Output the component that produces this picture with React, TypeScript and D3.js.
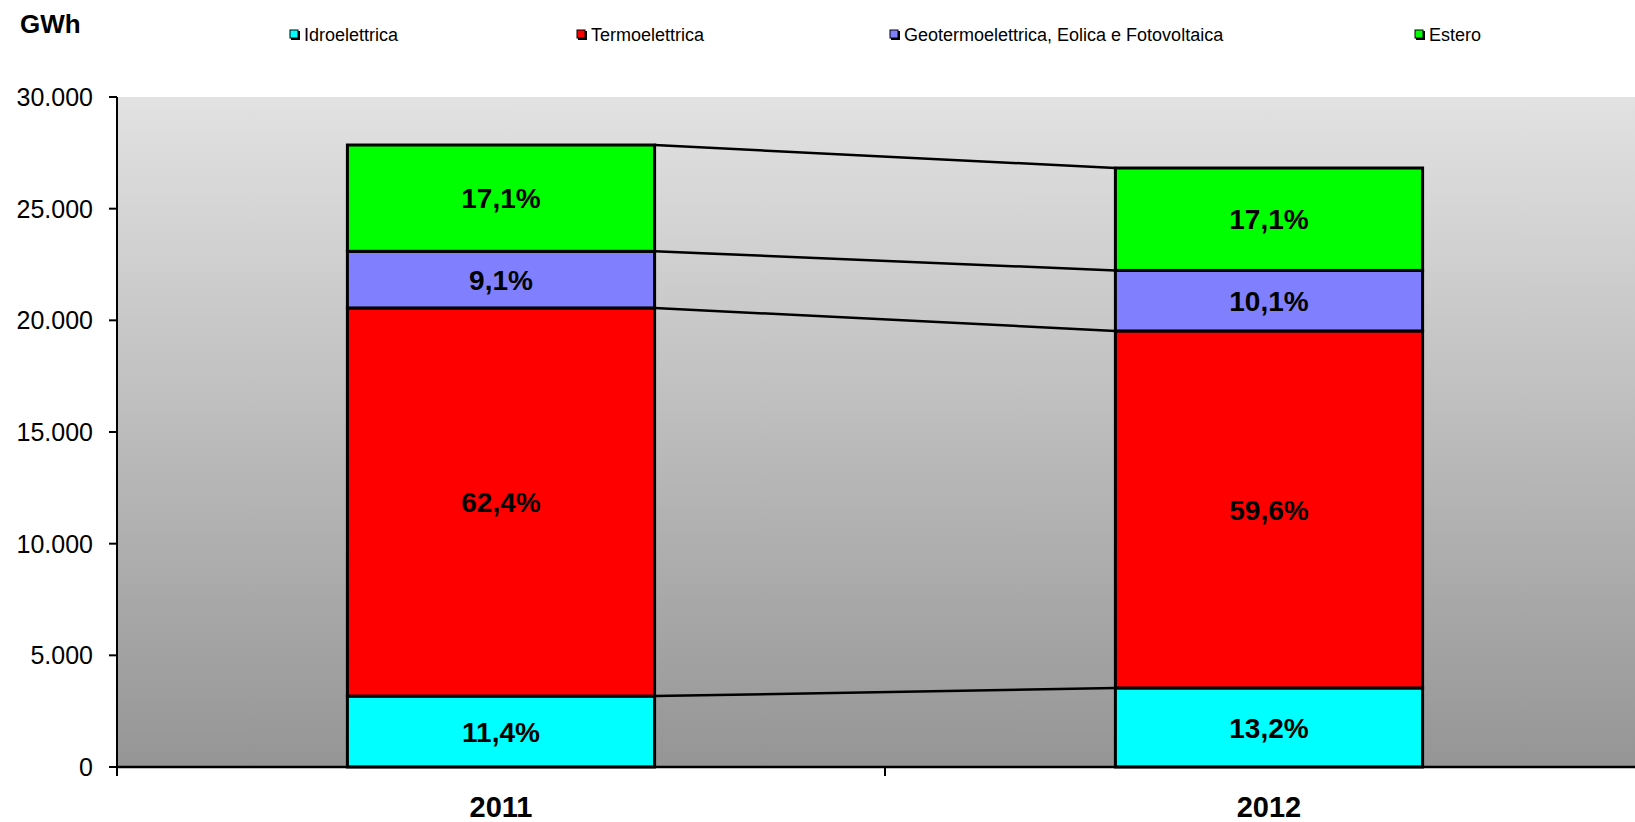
import { useMemo } from "react"
import * as d3 from "d3"

const years = ["2011", "2012"]
const seriesNames = ["Idroelettrica", "Termoelettrica", "Geotermoelettrica, Eolica e Fotovoltaica", "Estero"]
const seriesColors = ["#00ffff", "#ff0000", "#8080ff", "#00ff00"]
// GWh by source, one array per year (same order as seriesNames)
const values2011 = [3175, 17380, 2535, 4760]
const values2012 = [3540, 15985, 2710, 4585]
const yTicks = [0, 5000, 10000, 15000, 20000, 25000, 30000]

const W = 1635
const H = 822
const plot = { left: 117, right: 1653, top: 97, bottom: 767 }
const legendX = [290, 577, 890, 1415]

const itLocale = d3.formatLocale({ decimal: ",", thousands: ".", grouping: [3], currency: ["", "€"] })
const fmtTick = itLocale.format(",")

export default function App() {
  const data = useMemo(() => {
    const rows = [values2011, values2012]
    return years.map((year, j) => {
      const vals = rows[j]
      const total = d3.sum(vals)
      let cum = 0
      const segs = vals.map((v, i) => {
        const s = { i, y0: cum, y1: cum + v, pct: ((v / total) * 100).toFixed(1).replace(".", ",") + "%" }
        cum += v
        return s
      })
      return { year, segs }
    })
  }, [])

  const x = d3.scaleBand<string>().domain(years).range([plot.left, plot.right]).paddingInner(0.6).paddingOuter(0.3)
  const y = d3.scaleLinear().domain([0, 30000]).range([plot.bottom, plot.top])
  const bw = x.bandwidth()
  const step = x.step()

  const font = "'Liberation Sans', Arial, Helvetica, sans-serif"

  return (
    <svg
      width={W}
      height={H}
      style={{ position: "absolute", left: 0, top: 0, background: "#fff" }}
      fontFamily={font}
    >
      <defs>
        <linearGradient id="bg" x1="0" y1="0" x2="0" y2="1">
          <stop offset="0%" stopColor="#e2e2e2" />
          <stop offset="100%" stopColor="#959595" />
        </linearGradient>
      </defs>

      {/* plot background */}
      <rect x={plot.left} y={plot.top} width={W - plot.left} height={plot.bottom - plot.top} fill="url(#bg)" />

      {/* series lines between stacked bars */}
      {data[0].segs.map((s, i) => (
        <line
          key={"sl" + i}
          x1={(x(years[0]) ?? 0) + bw}
          x2={x(years[1]) ?? 0}
          y1={y(s.y1)}
          y2={y(data[1].segs[i].y1)}
          stroke="#000"
          strokeWidth={2.5}
        />
      ))}

      {/* bars */}
      {data.map((d) =>
        d.segs.map((s) => (
          <g key={d.year + s.i}>
            <rect
              x={x(d.year)}
              y={y(s.y1)}
              width={bw}
              height={y(s.y0) - y(s.y1)}
              fill={seriesColors[s.i]}
              stroke="#000"
              strokeWidth={3}
            />
            <text
              x={(x(d.year) ?? 0) + bw / 2}
              y={(y(s.y0) + y(s.y1)) / 2}
              dy="0.36em"
              textAnchor="middle"
              fontWeight="bold"
              fontSize={28}
              fill="#000"
            >
              {s.pct}
            </text>
          </g>
        )),
      )}

      {/* y axis */}
      <line x1={plot.left} x2={plot.left} y1={plot.top} y2={plot.bottom} stroke="#000" strokeWidth={2} />
      {yTicks.map((t) => (
        <g key={"yt" + t}>
          <line x1={plot.left - 8} x2={plot.left} y1={y(t)} y2={y(t)} stroke="#000" strokeWidth={2} />
          <text x={plot.left - 24} y={y(t)} dy="0.36em" textAnchor="end" fontSize={25} fill="#000">
            {fmtTick(t)}
          </text>
        </g>
      ))}

      {/* x axis */}
      <line x1={plot.left} x2={W} y1={plot.bottom} y2={plot.bottom} stroke="#000" strokeWidth={2.5} />
      {[0, 1, 2].map((k) => (
        <line
          key={"xt" + k}
          x1={plot.left + k * step}
          x2={plot.left + k * step}
          y1={plot.bottom}
          y2={plot.bottom + 9}
          stroke="#000"
          strokeWidth={2}
        />
      ))}
      {years.map((yr) => (
        <text
          key={"xl" + yr}
          x={(x(yr) ?? 0) + bw / 2}
          y={817}
          textAnchor="middle"
          fontWeight="bold"
          fontSize={29}
          fill="#000"
        >
          {yr}
        </text>
      ))}

      {/* unit label */}
      <text x={20} y={33} fontWeight="bold" fontSize={26} fill="#000">
        GWh
      </text>

      {/* legend */}
      {seriesNames.map((name, i) => (
        <g key={"lg" + i} transform={`translate(${legendX[i]}, 35)`}>
          <rect x={1} y={-4} width={9} height={9} fill="#000" />
          <rect x={0} y={-5} width={8} height={8} fill={seriesColors[i]} stroke="#000" strokeWidth={1} />
          <text x={14} y={0} dy="0.36em" fontSize={18} fill="#000">
            {name}
          </text>
        </g>
      ))}
    </svg>
  )
}
